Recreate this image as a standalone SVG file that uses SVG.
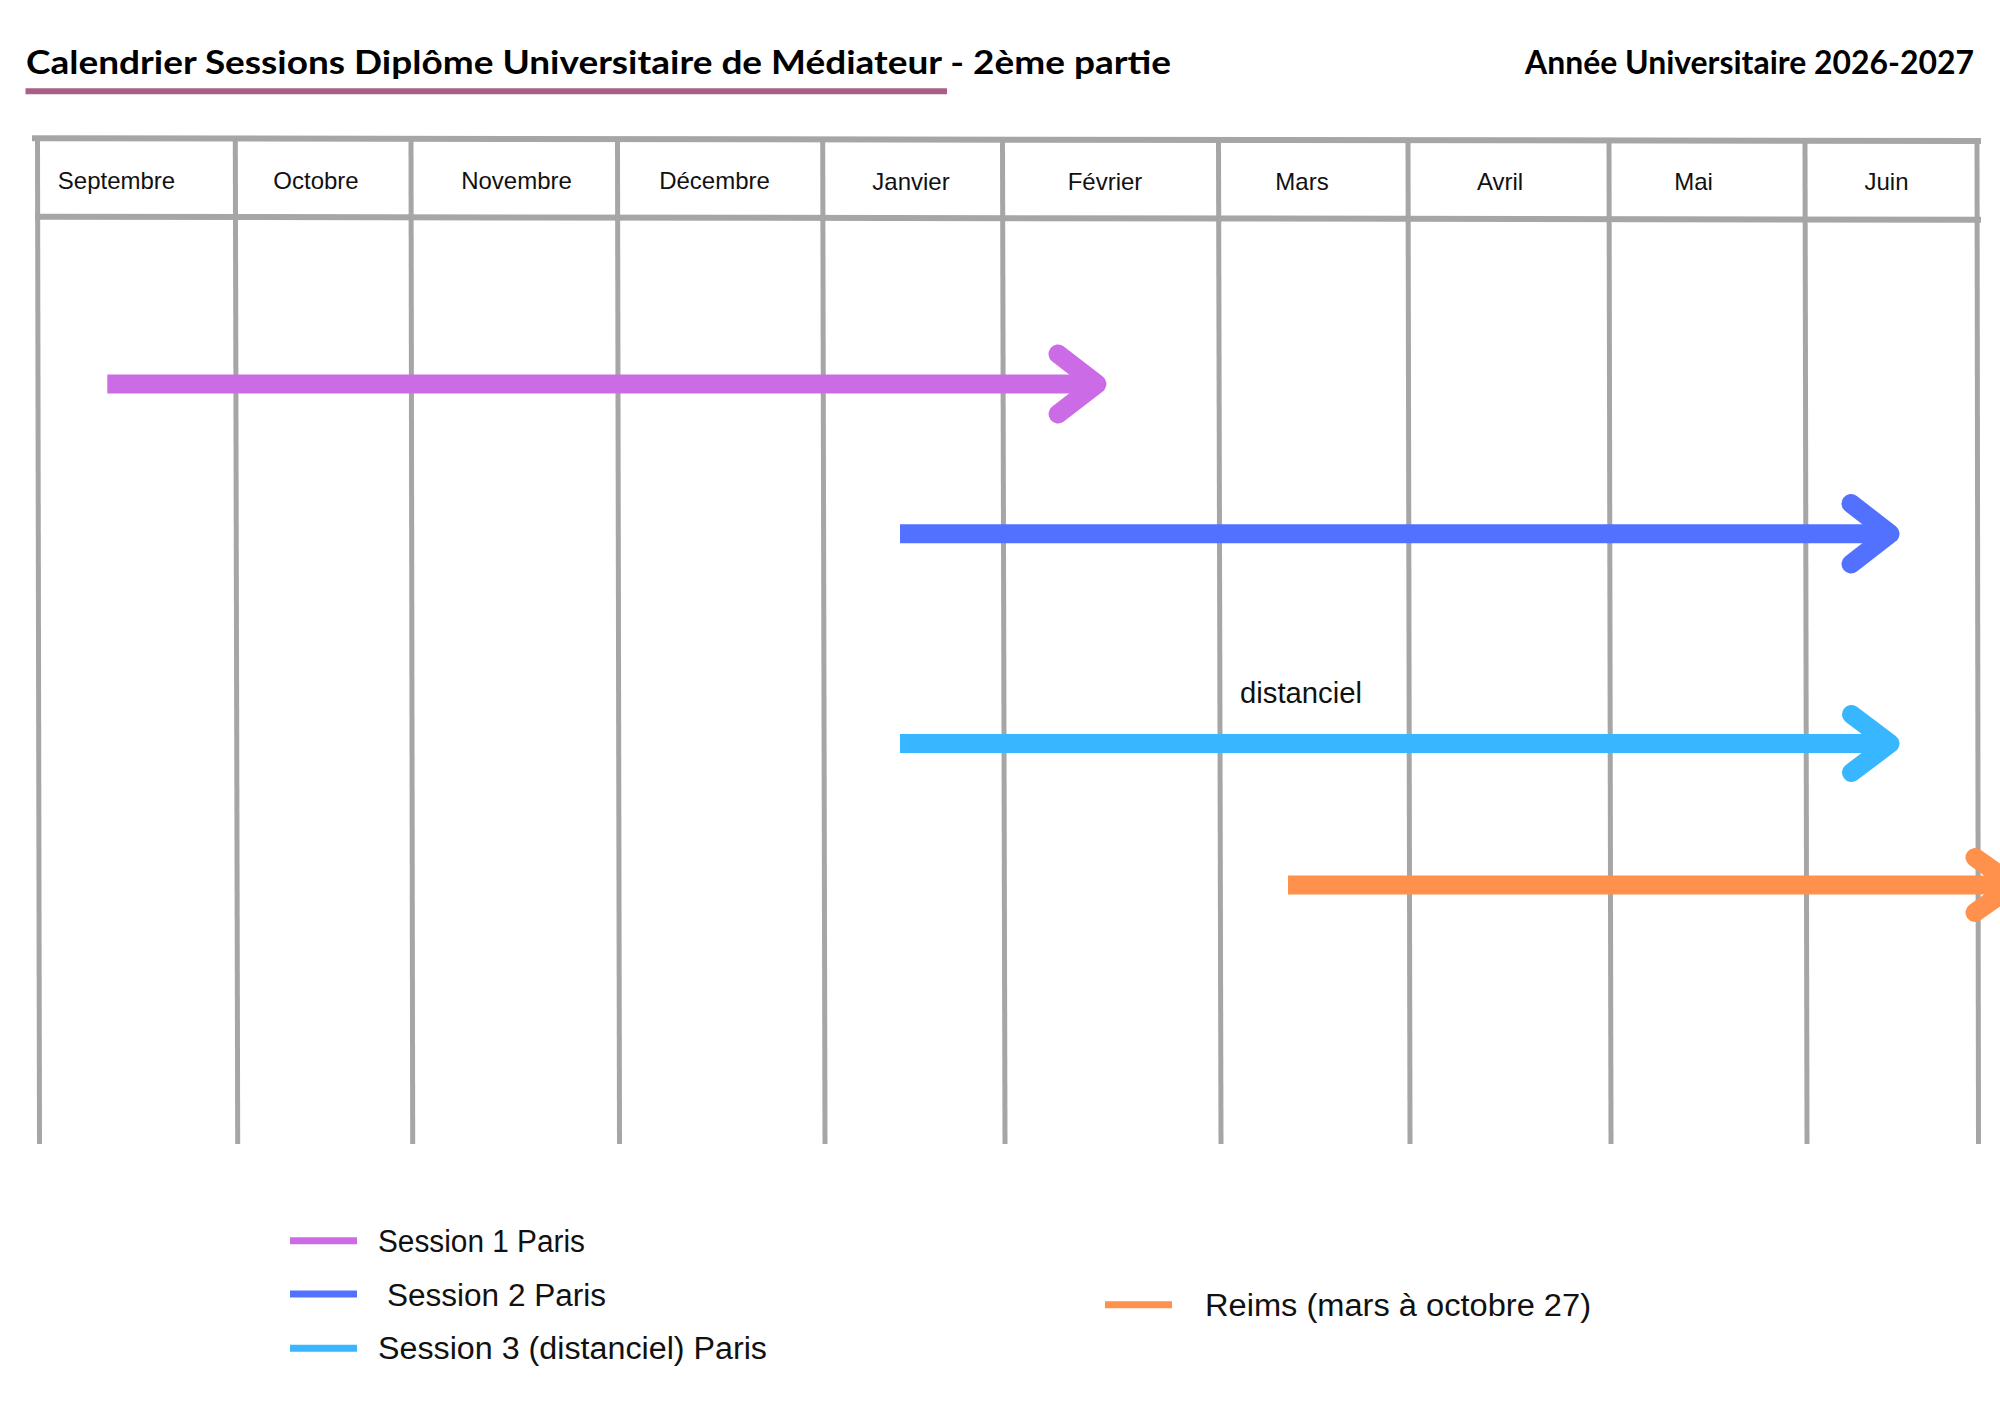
<svg xmlns="http://www.w3.org/2000/svg" width="2000" height="1414" viewBox="0 0 2000 1414">
  <style>
    .title { font-family: "Lato", "Liberation Sans", sans-serif; font-weight: 700; font-size: 33px; fill: #000000; }
    .month { font-family: "Liberation Sans", "Lato", sans-serif; font-size: 24px; fill: #111111; text-anchor: middle; }
    .label { font-family: "Liberation Sans", "Lato", sans-serif; font-size: 29px; fill: #111111; }
    .legend { font-family: "Liberation Sans", "Lato", sans-serif; font-size: 31px; fill: #111111; }
    .hgrid { stroke: #A6A6A6; stroke-width: 6; fill: none; stroke-linecap: butt; }
    .vgrid { stroke: #A6A6A6; stroke-width: 5; fill: none; stroke-linecap: butt; }
    .shaft { stroke-width: 19; fill: none; stroke-linecap: butt; }
    .head { stroke-width: 19; fill: none; stroke-linecap: round; stroke-linejoin: round; }
    .key { stroke-width: 7; fill: none; stroke-linecap: butt; }
    .s1 { stroke: #CB6CE6; }
    .s2 { stroke: #5271FF; }
    .s3 { stroke: #38B6FF; }
    .s4 { stroke: #FF914D; }
  </style>
  <rect x="0" y="0" width="2000" height="1414" fill="#FFFFFF"/>

  <g id="header">
    <text class="title" x="26" y="74" textLength="1145" lengthAdjust="spacingAndGlyphs">Calendrier Sessions Diplôme Universitaire de Médiateur - 2ème partie</text>
    <line x1="25.5" y1="91.3" x2="947" y2="91.3" stroke="#A95F86" stroke-width="6"/>
    <text class="title" x="1974" y="73.5" text-anchor="end" textLength="449" lengthAdjust="spacingAndGlyphs">Année Universitaire 2026-2027</text>
  </g>

  <g id="grid">
    <line class="hgrid" x1="32" y1="138.3" x2="1981" y2="141"/>
    <line class="hgrid" x1="35" y1="216.7" x2="1981" y2="219.7"/>
    <line class="vgrid" x1="37.5" y1="138" x2="39.5" y2="1144"/>
    <line class="vgrid" x1="235.3" y1="138" x2="237.7" y2="1144"/>
    <line class="vgrid" x1="411" y1="138" x2="412.7" y2="1144"/>
    <line class="vgrid" x1="617.5" y1="139" x2="619.5" y2="1144"/>
    <line class="vgrid" x1="822.7" y1="139" x2="825" y2="1144"/>
    <line class="vgrid" x1="1002.5" y1="139" x2="1005" y2="1144"/>
    <line class="vgrid" x1="1218.5" y1="139" x2="1221" y2="1144"/>
    <line class="vgrid" x1="1408" y1="140" x2="1410" y2="1144"/>
    <line class="vgrid" x1="1609" y1="140" x2="1611" y2="1144"/>
    <line class="vgrid" x1="1805" y1="140" x2="1807" y2="1144"/>
    <line class="vgrid" x1="1977" y1="141" x2="1978.5" y2="1144"/>
  </g>

  <g id="month-sep"><text class="month" x="116.5" y="189">Septembre</text></g>
  <g id="month-oct"><text class="month" x="316" y="189">Octobre</text></g>
  <g id="month-nov"><text class="month" x="516.5" y="189">Novembre</text></g>
  <g id="month-dec"><text class="month" x="714.5" y="189">Décembre</text></g>
  <g id="month-jan"><text class="month" x="911" y="189.5">Janvier</text></g>
  <g id="month-feb"><text class="month" x="1105" y="189.5">Février</text></g>
  <g id="month-mar"><text class="month" x="1302" y="189.5">Mars</text></g>
  <g id="month-apr"><text class="month" x="1500" y="190">Avril</text></g>
  <g id="month-may"><text class="month" x="1693.5" y="190">Mai</text></g>
  <g id="month-jun"><text class="month" x="1886.5" y="190">Juin</text></g>

  <g id="connectors">
    <g id="session1-arrow">
      <line class="shaft s1" x1="107.3" y1="384" x2="1089" y2="384"/>
      <polyline class="head s1" points="1058,354 1097,384 1058,414"/>
    </g>
    <g id="session2-arrow">
      <line class="shaft s2" x1="900" y1="533.8" x2="1882" y2="533.8"/>
      <polyline class="head s2" points="1851,503.5 1890,533.8 1851,564"/>
    </g>
    <g id="session3-arrow">
      <line class="shaft s3" x1="900" y1="743.5" x2="1882" y2="743.5"/>
      <polyline class="head s3" points="1851.5,714.5 1890,743.5 1851.5,772.5"/>
    </g>
    <g id="reims-arrow">
      <line class="shaft s4" x1="1288" y1="885" x2="2006" y2="885"/>
      <polyline class="head s4" points="1975,857.5 2014,885 1975,912.5"/>
    </g>
  </g>

  <g id="label-distanciel">
    <text class="label" x="1240" y="702.5" textLength="122" lengthAdjust="spacingAndGlyphs">distanciel</text>
  </g>

  <g id="legend">
    <g id="legend-s1">
      <line class="key s1" x1="290" y1="1240.7" x2="357" y2="1240.7"/>
      <text class="legend" x="378" y="1252" textLength="207" lengthAdjust="spacingAndGlyphs">Session 1 Paris</text>
    </g>
    <g id="legend-s2">
      <line class="key s2" x1="290" y1="1294" x2="357" y2="1294"/>
      <text class="legend" x="387" y="1305.7" textLength="219" lengthAdjust="spacingAndGlyphs">Session 2 Paris</text>
    </g>
    <g id="legend-s3">
      <line class="key s3" x1="290" y1="1348.3" x2="357" y2="1348.3"/>
      <text class="legend" x="378" y="1359.3" textLength="389" lengthAdjust="spacingAndGlyphs">Session 3 (distanciel) Paris</text>
    </g>
    <g id="legend-reims">
      <line class="key s4" x1="1105" y1="1304.7" x2="1172" y2="1304.7"/>
      <text class="legend" x="1205" y="1315.7" textLength="386" lengthAdjust="spacingAndGlyphs">Reims (mars à octobre 27)</text>
    </g>
  </g>
</svg>
